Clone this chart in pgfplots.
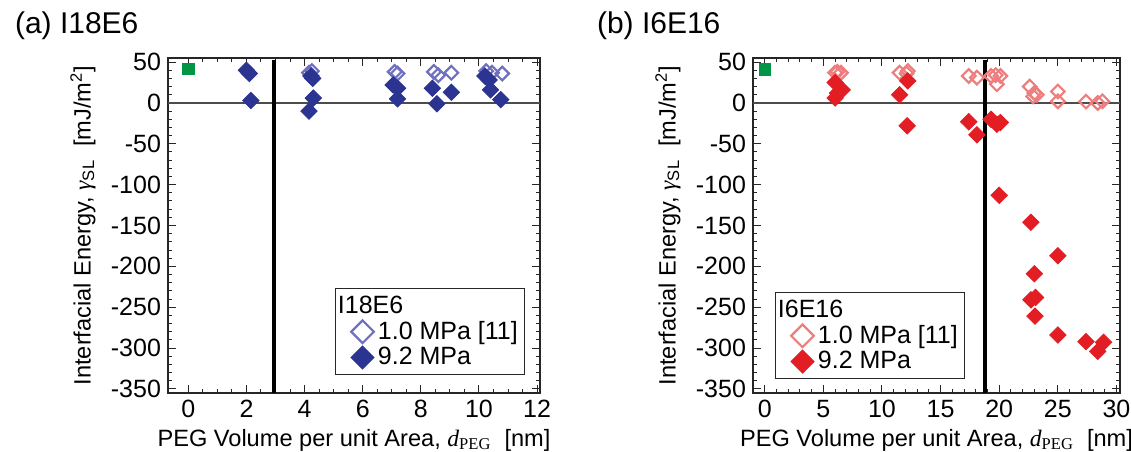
\documentclass[border=0pt]{standalone}
\usepackage{pgfplots}
\pgfplotsset{compat=1.18}
\usepackage{fontspec}
\setmainfont{Liberation Sans}
\newfontfamily\serif{Liberation Serif}

\definecolor{darkblue}{RGB}{43,52,145}
\definecolor{lightblue}{RGB}{112,112,192}
\definecolor{redsolid}{RGB}{226,30,36}
\definecolor{redlight}{RGB}{238,125,125}
\definecolor{greensq}{RGB}{0,150,70}

\pgfplotsset{
  panel/.style={
    scale only axis, height=167.5pt,
    ymin=-355, ymax=55, ytick={-350,-300,...,50}, minor y tick num=4,
    tick align=inside, major tick length=4pt, minor tick length=2pt,
    axis line style={line width=0.6pt, black!85},
    every tick/.style={black!85, line width=0.5pt},
    tick label style={font=\fontsize{12.5}{14}\selectfont},
    /pgf/number format/assume math mode=true,
    label style={font=\fontsize{11.8}{14}\selectfont},
    xlabel={PEG Volume per unit Area, {\serif\itshape d}\textsubscript{\serif PEG}\ \ [nm]},
    ylabel={Interfacial Energy, {\serif\itshape γ}\textsubscript{SL}\ \ [mJ/m\textsuperscript{2}]},
    xlabel style={at={(axis description cs:0.5,0)}, anchor=base, yshift=-26.5pt},
    legend style={draw=black!85, line width=0.6pt, font=\fontsize{12.5}{14}\selectfont,
      legend cell align=left, anchor=north west, inner sep=1.5pt, row sep=-1.5pt},
    legend image code/.code={\path[draw=none, fill=none] (0,0) rectangle (0.62cm,0.01cm);
      \draw[#1, mark size=4pt] plot coordinates {(0.42cm,0cm)};},
  },
  openmk/.style={only marks, mark=square, mark size=2.4pt,
    mark options={rotate=45, line width=1.1pt, draw=#1}},
  solidmk/.style={only marks, mark=square*, mark size=2.9pt,
    mark options={rotate=45, draw=#1, fill=#1}},
}

\begin{document}
\begin{tikzpicture}
\path[use as bounding box] (-84pt,-29pt) rectangle (481.5pt,196.5pt);

% (a) I18E6
\begin{axis}[panel, name=a, width=186pt, xmin=-0.7, xmax=12.1,
  xtick={0,2,...,12}, minor x tick num=3,
  ylabel style={at={(axis description cs:-0.2285,0.5)}, anchor=center},
  legend style={at={(rel axis cs:0.449,0.313)}}]
\addlegendimage{empty legend}
\addlegendentry{\hspace{-20pt}I18E6}
\addplot[forget plot, black!70, line width=0.6pt] coordinates {(-0.7,0) (12.1,0)};
\addplot[forget plot, black, line width=2pt] coordinates {(2.95,-355) (2.95,52)};
\addplot[forget plot, only marks, mark=square*, mark size=2.8pt, color=greensq] coordinates {(0,42)};
\addplot[openmk=lightblue] coordinates {
  (4.15,37) (4.25,39) (7.1,38) (7.2,36) (8.45,38) (8.6,34) (9.05,37)
  (10.25,39) (10.45,37) (10.8,36)};
\addlegendentry{1.0 MPa [11]}
\addplot[solidmk=darkblue] coordinates {
  (2.0,40) (2.1,36) (2.15,3)
  (4.22,33) (4.28,30) (4.3,6) (4.15,-10)
  (7.05,22) (7.2,18) (7.2,5)
  (8.4,18) (8.55,-1) (9.05,13)
  (10.2,33) (10.35,28) (10.4,16) (10.75,4)};
\addlegendentry{9.2 MPa}
\end{axis}

% (b) I6E16
\begin{axis}[panel, name=b, at={(292.5pt,0)}, width=183.5pt, xmin=-1, xmax=30.3,
  xtick={0,5,...,30}, minor x tick num=4,
  ylabel style={at={(axis description cs:-0.2316,0.5)}, anchor=center},
  legend style={at={(rel axis cs:0.06,0.301)}}]
\addlegendimage{empty legend}
\addlegendentry{\hspace{-20pt}I6E16}
\addplot[forget plot, black!70, line width=0.6pt] coordinates {(-1,0) (30.3,0)};
\addplot[forget plot, black, line width=2pt] coordinates {(18.8,-355) (18.8,52)};
\addplot[forget plot, only marks, mark=square*, mark size=2.8pt, color=greensq] coordinates {(0,41)};
\addplot[openmk=redlight] coordinates {
  (6.0,37) (6.2,38) (6.5,37)
  (11.5,37) (12.1,36) (12.2,39)
  (17.4,33) (18.1,31)
  (19.3,33) (19.7,34) (20.1,33) (19.8,23)
  (22.6,20) (23.0,12) (22.9,8) (23.2,10)
  (25.0,14) (25.0,2)
  (27.4,1.6) (28.4,0) (28.8,2)};
\addlegendentry{1.0 MPa [11]}
\addplot[solidmk=redsolid] coordinates {
  (6.0,25) (6.0,6) (6.2,12) (6.6,16)
  (11.5,10) (12.2,27) (12.15,-28)
  (17.4,-23) (18.1,-39)
  (19.3,-20) (19.8,-26) (20.1,-24)
  (20.0,-113) (22.7,-146) (25.0,-187) (23.0,-209)
  (22.7,-241) (23.1,-238) (23.05,-261)
  (25.0,-284) (27.4,-292) (28.4,-304) (28.9,-293)};
\addlegendentry{9.2 MPa}
\end{axis}

\node[anchor=base west, font=\fontsize{15}{18}\selectfont, xshift=-80pt, yshift=12.5pt] at (a.north west) {(a) I18E6};
\node[anchor=base west, font=\fontsize{15}{18}\selectfont, xshift=-81.5pt, yshift=12.5pt] at (b.north west) {(b) I6E16};
\end{tikzpicture}
\end{document}
